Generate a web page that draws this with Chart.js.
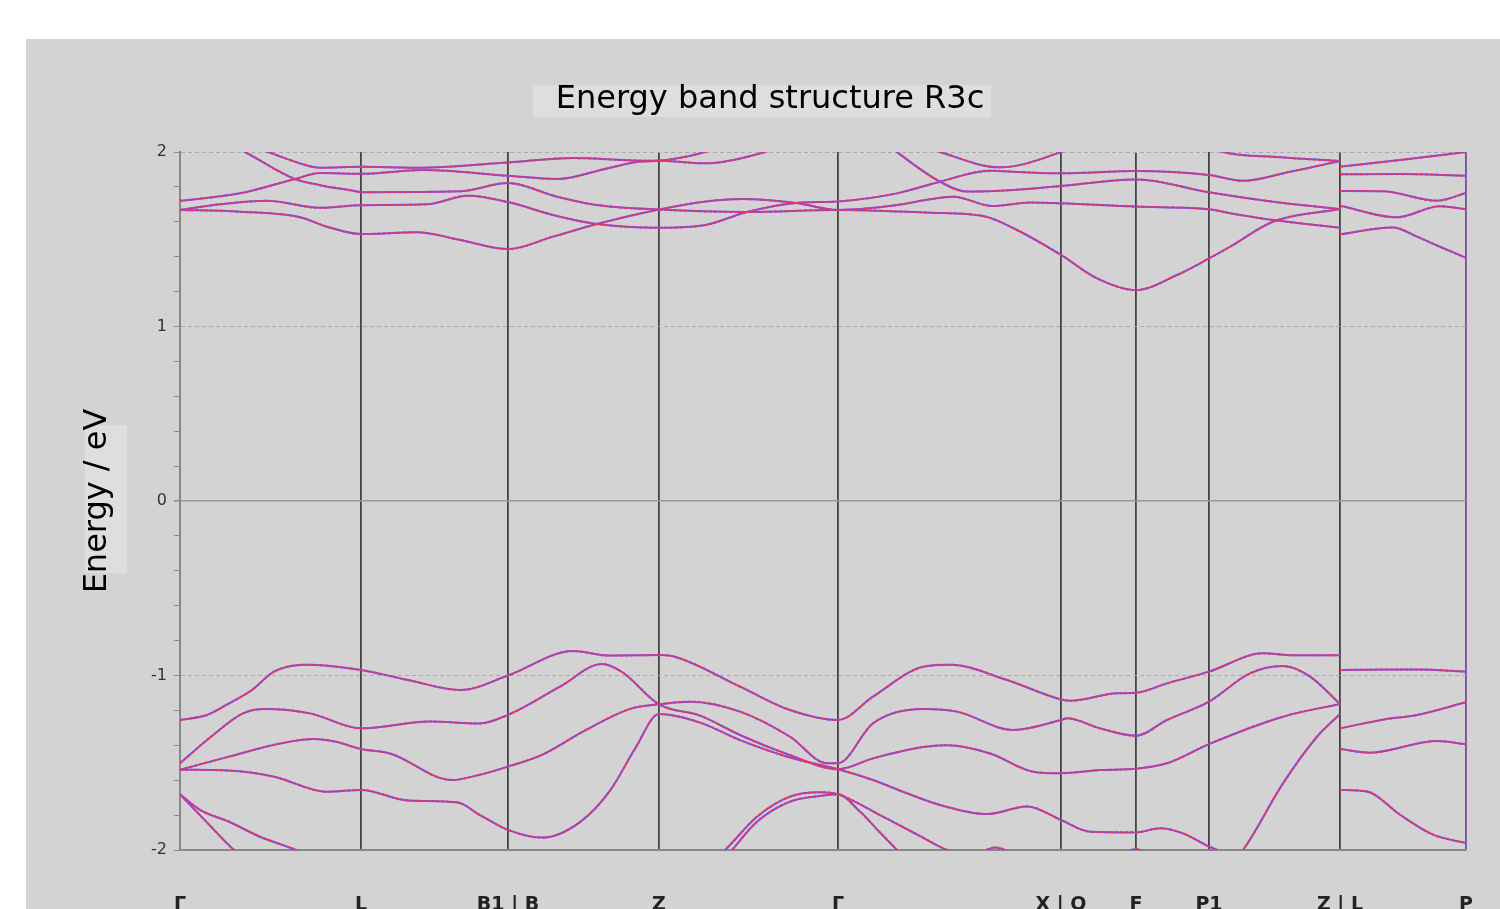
<!DOCTYPE html>
<html lang="en">
  <head>
    <meta charset="UTF-8" />
    <title>Energy band structure R3c</title>
    <script src="https://cdn.jsdelivr.net/npm/chart.js@4.4.1/dist/chart.umd.min.js"></script>
    <style>
      html,
      body {
        margin: 0;
        padding: 0;
        background: #fff;
        overflow: hidden;
        width: 1500px;
        height: 909px;
      }
      .panel {
        position: absolute;
        left: 26px;
        top: 39px;
        width: 1474px;
        height: 881px;
        background: #d3d3d3;
      }
      canvas {
        display: block;
      }
    </style>
  </head>

  <body>
    <div class="panel">
      <canvas id="bands" width="1474" height="881"></canvas>
    </div>
    <script>
      // high-symmetry points along the k-path
      const kTicks = [0, 181, 328, 479, 658, 881, 956, 1029, 1160, 1286];
      const kLabels = ["Γ", "L", "B1 | B", "Z", "Γ", "X | Q", "F", "P1", "Z | L", "P"];

      // bands as [k, E/eV]; null = break at Z | L
      const c1 = [[0,1.668],[60,1.658],[120,1.626],[147,1.572],[181,1.53],[237,1.54],[280,1.496],[328,1.444],[373,1.515],[417,1.587],[479,1.67],[524,1.715],[562,1.73],[616,1.708],[658,1.668],[717,1.696],[750,1.729],[773,1.744],[813,1.69],[850,1.71],[881,1.706],[956,1.687],[1029,1.672],[1050,1.649],[1093,1.61],[1160,1.566],[1160,null],[1160,1.528],[1213,1.568],[1237,1.515],[1260,1.457],[1286,1.394]];
      const c2 = [[0,1.668],[40,1.70],[87,1.72],[140,1.68],[181,1.695],[247,1.70],[288,1.75],[328,1.713],[377,1.633],[417,1.587],[479,1.566],[524,1.58],[567,1.656],[616,1.708],[658,1.717],[717,1.763],[760,1.83],[810,1.893],[840,1.885],[881,1.878],[956,1.891],[1029,1.868],[1063,1.835],[1110,1.887],[1160,1.948],[1160,null],[1160,1.872],[1220,1.874],[1286,1.864]];
      const c3 = [[0,1.72],[60,1.763],[115,1.845],[140,1.88],[181,1.875],[243,1.897],[328,1.864],[377,1.845],[427,1.906],[460,1.945],[479,1.95],[525,2.0],[570,2.1],[658,2.2],[700,2.08],[717,2.0],[760,1.83],[787,1.773],[833,1.782],[881,1.805],[956,1.843],[1029,1.769],[1093,1.715],[1160,1.673],[1160,null],[1160,1.777],[1203,1.775],[1257,1.721],[1286,1.765]];
      const c4 = [[0,2.2],[30,2.1],[65,2.0],[115,1.845],[140,1.81],[173,1.778],[181,1.77],[280,1.775],[328,1.822],[377,1.744],[417,1.696],[479,1.67],[567,1.656],[658,1.668],[750,1.652],[803,1.633],[837,1.553],[881,1.41],[917,1.276],[956,1.209],[997,1.295],[1029,1.39],[1050,1.457],[1093,1.60],[1160,1.673],[1160,null],[1160,1.692],[1217,1.626],[1260,1.689],[1286,1.672]];
      const c5 = [[0,2.15],[50,2.07],[88,2.0],[120,1.935],[140,1.91],[181,1.915],[237,1.91],[328,1.94],[393,1.965],[470,1.95],[479,1.95],[524,1.935],[585,2.0],[620,2.08],[658,2.12],[720,2.08],[760,2.0],[820,1.912],[881,2.0],[920,2.1],[956,2.12],[1000,2.1],[1043,2.0],[1100,1.97],[1160,1.948],[1160,null],[1160,1.916],[1220,1.954],[1286,2.0]];

      const v1 = [[0,-1.255],[27,-1.226],[49,-1.16],[72,-1.083],[94,-0.978],[125,-0.938],[181,-0.968],[228,-1.026],[281,-1.083],[328,-1.0],[393,-0.86],[429,-0.886],[479,-0.883],[493,-0.89],[560,-1.064],[610,-1.198],[658,-1.255],[693,-1.121],[743,-0.95],[770,-0.938],[827,-1.026],[881,-1.137],[890,-1.145],[937,-1.102],[956,-1.099],[987,-1.045],[1029,-0.978],[1083,-0.873],[1113,-0.884],[1160,-0.884],[1160,null],[1160,-0.968],[1237,-0.965],[1286,-0.978]];
      const v2 = [[0,-1.503],[31,-1.351],[63,-1.217],[85,-1.192],[130,-1.217],[181,-1.303],[250,-1.264],[299,-1.275],[328,-1.226],[380,-1.064],[422,-0.934],[442,-0.98],[479,-1.165],[520,-1.23],[560,-1.341],[610,-1.456],[658,-1.537],[693,-1.475],[743,-1.41],[767,-1.40],[810,-1.447],[853,-1.551],[881,-1.56],[920,-1.542],[956,-1.534],[987,-1.503],[1029,-1.393],[1103,-1.236],[1160,-1.163],[1160,null],[1160,-1.303],[1203,-1.253],[1237,-1.226],[1286,-1.153]];
      const v3 = [[0,-1.54],[49,-1.465],[100,-1.39],[134,-1.364],[156,-1.38],[181,-1.421],[210,-1.447],[272,-1.599],[299,-1.57],[328,-1.522],[362,-1.455],[406,-1.312],[451,-1.19],[479,-1.165],[510,-1.15],[560,-1.207],[610,-1.351],[647,-1.503],[658,-1.503],[693,-1.274],[743,-1.192],[777,-1.207],[833,-1.312],[881,-1.255],[887,-1.245],[920,-1.303],[956,-1.345],[987,-1.255],[1029,-1.15],[1070,-0.988],[1103,-0.946],[1130,-1.006],[1160,-1.163],[1160,null],[1160,-1.421],[1190,-1.442],[1257,-1.375],[1286,-1.394]];
      const v4 = [[0,-1.54],[49,-1.545],[94,-1.58],[147,-1.666],[181,-1.656],[228,-1.716],[277,-1.727],[300,-1.80],[328,-1.885],[362,-1.929],[400,-1.84],[430,-1.66],[455,-1.42],[479,-1.221],[520,-1.27],[560,-1.37],[610,-1.47],[658,-1.537],[693,-1.599],[727,-1.675],[760,-1.742],[807,-1.794],[847,-1.75],[881,-1.828],[910,-1.895],[956,-1.899],[980,-1.876],[1003,-1.905],[1029,-1.981],[1037,-2.0],[1050,-2.08],[1063,-2.0],[1103,-1.618],[1137,-1.351],[1160,-1.221],[1160,null],[1160,-1.656],[1187,-1.665],[1220,-1.798],[1253,-1.912],[1286,-1.96]];
      const v5 = [[0,-1.681],[20,-1.77],[49,-1.838],[80,-1.924],[116,-2.0],[160,-2.12],[300,-2.3],[480,-2.3],[520,-2.12],[545,-2.0],[577,-1.809],[610,-1.694],[640,-1.669],[658,-1.681],[700,-1.80],[740,-1.92],[767,-2.0],[790,-2.04],[815,-1.985],[840,-2.04],[900,-2.2],[940,-2.04],[956,-1.994],[972,-2.04],[1030,-2.3],[1160,-2.3],[1160,null],[1160,-2.3],[1286,-2.3]];
      const v6 = [[0,-1.681],[25,-1.83],[54,-2.0],[90,-2.15],[300,-2.4],[500,-2.35],[530,-2.15],[552,-2.0],[577,-1.838],[610,-1.723],[640,-1.69],[658,-1.681],[680,-1.78],[700,-1.90],[717,-2.0],[740,-2.15],[900,-2.4],[1160,-2.4],[1160,null],[1160,-2.4],[1286,-2.4]];

      const bands = [c1, c2, c3, c4, c5, v1, v2, v3, v4, v5, v6];

      const isWhole = (v) => Math.abs(v - Math.round(v)) < 1e-6;

      // spin up (blue) under spin down (red, dashed)
      const datasets = [];
      bands.forEach((band) => {
        const pts = band.map(([k, e]) => ({ x: k, y: e }));
        datasets.push({ data: pts, borderColor: "#ff2d55", borderWidth: 2, borderDash: [3, 2], order: 0 });
        datasets.push({ data: pts, borderColor: "#5a5aff", borderWidth: 2, order: 1 });
      });

      // light boxes behind the two titles
      const backdrops = {
        id: "backdrops",
        beforeDraw(chart) {
          const { ctx, titleBlock, scales, chartArea } = chart;
          ctx.save();
          ctx.fillStyle = "#dedede";
          ctx.font = "32px 'DejaVu Sans'";
          const w = ctx.measureText(titleBlock.options.text).width;
          const cx = (titleBlock.left + titleBlock.right) / 2;
          const cy = titleBlock.top + 41 + 19;
          ctx.fillRect(cx - w / 2 - 23, cy - 14, w + 30, 32);
          const tx = scales.y.left + 23;
          const ty = (chartArea.top + chartArea.bottom) / 2;
          ctx.fillRect(tx - 12, ty - 76, 42, 148);
          ctx.restore();
        },
      };

      new Chart("bands", {
        type: "line",
        data: { datasets: datasets },
        options: {
          responsive: false,
          animation: false,
          layout: { padding: { left: 48, right: 34, top: 0, bottom: 0 } },
          elements: {
            point: { radius: 0 },
            line: { cubicInterpolationMode: "monotone" },
          },
          plugins: {
            legend: { display: false },
            tooltip: { enabled: false },
            title: {
              display: true,
              text: "Energy band structure R3c",
              color: "#000",
              font: { family: "DejaVu Sans", size: 32, weight: "normal" },
              padding: { top: 41, bottom: 33.6 },
            },
          },
          scales: {
            x: {
              type: "linear",
              min: 0,
              max: 1286,
              afterBuildTicks: (scale) => {
                scale.ticks = kTicks.map((v) => ({ value: v }));
              },
              afterFit: (scale) => {
                scale.height = 70;
              },
              ticks: {
                autoSkip: false,
                maxRotation: 0,
                padding: 0,
                color: "#222",
                font: { family: "DejaVu Sans", size: 19, weight: "bold" },
                callback: (value, index) => kLabels[index],
              },
              grid: {
                drawTicks: true,
                tickLength: 44,
                tickColor: "rgba(0,0,0,0)",
                lineWidth: 1.8,
                color: (c) => {
                  if (c.index === 0) return "rgba(0,0,0,0)";
                  if (c.index === kTicks.length - 1) return "#7d4a9e";
                  return "#444";
                },
              },
              border: { color: "#888", width: 2 },
            },
            y: {
              min: -2,
              max: 2,
              afterFit: (scale) => {
                scale.width = 106;
              },
              ticks: {
                stepSize: 0.2,
                maxTicksLimit: 30,
                padding: 7,
                color: "#333",
                font: { family: "DejaVu Sans", size: 16 },
                callback: (v) => (isWhole(v) ? String(Math.round(v)) : ""),
              },
              grid: {
                drawTicks: true,
                tickLength: 6,
                tickColor: "#888",
                lineWidth: (c) => (c.tick && Math.round(c.tick.value) === 0 && isWhole(c.tick.value) ? 1.5 : 1),
                color: (c) => {
                  const v = c.tick ? c.tick.value : 0.5;
                  if (!isWhole(v) || Math.round(v) === -2) return "rgba(0,0,0,0)";
                  return Math.round(v) === 0 ? "#999" : "#aaa";
                },
              },
              border: {
                color: "#888",
                width: 2,
                dash: (c) => (c.tick && Math.abs(c.tick.value) > 1e-6 ? [4, 3] : []),
              },
              title: {
                display: true,
                text: "Energy / eV",
                color: "#000",
                font: { family: "DejaVu Sans", size: 32 },
                padding: { top: 4, bottom: 4 },
              },
            },
          },
        },
        plugins: [backdrops],
      });
    </script>
  </body>
</html>
